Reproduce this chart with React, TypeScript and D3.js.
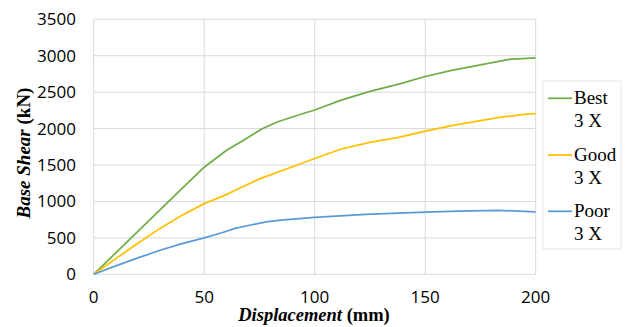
import React from "react";
import * as d3 from "d3";

const xTicks = [0, 50, 100, 150, 200];
const yTicks = [0, 500, 1000, 1500, 2000, 2500, 3000, 3500];

const bestX = [0, 10, 20, 30, 40, 50, 60, 68, 76, 83, 93, 100, 112, 125, 138, 150, 162, 175, 188, 200];
const bestY = [0, 295, 590, 885, 1180, 1470, 1700, 1845, 1995, 2090, 2190, 2255, 2390, 2510, 2610, 2715, 2800, 2875, 2950, 2970];

const goodX = [0, 10, 20, 30, 40, 50, 59, 66, 75, 93, 100, 112, 125, 138, 150, 162, 175, 185, 196, 200];
const goodY = [0, 215, 425, 630, 810, 970, 1080, 1180, 1310, 1510, 1590, 1720, 1810, 1880, 1965, 2040, 2110, 2160, 2200, 2205];

const poorX = [0, 10, 20, 30, 40, 50, 58, 64, 70, 78, 86, 100, 123, 150, 165, 183, 200];
const poorY = [0, 115, 225, 330, 420, 500, 570, 630, 670, 720, 748, 782, 823, 852, 868, 878, 858];

const seriesNames = ["Best", "Good", "Poor"];
const seriesColors = ["#70AD47", "#FFC000", "#5B9BD5"];

export default function App() {
  const W = 627, H = 327;
  const x = d3.scaleLinear().domain([0, 200]).range([93.7, 535.7]);
  const y = d3.scaleLinear().domain([0, 3500]).range([274.3, 19.3]);
  const line = d3.line<[number, number]>().x(d => x(d[0])).y(d => y(d[1]));
  const series = [
    bestX.map((v, i) => [v, bestY[i]] as [number, number]),
    goodX.map((v, i) => [v, goodY[i]] as [number, number]),
    poorX.map((v, i) => [v, poorY[i]] as [number, number]),
  ];
  const tickFont = "Open Sans, Liberation Sans, sans-serif";
  const serif = "Liberation Serif, Times New Roman, Tinos, DejaVu Serif, serif";
  const legendBase = [104.3, 161, 217.3];
  return (
    <svg width={W} height={H} style={{ position: "absolute", left: 0, top: 0, background: "#fff" }}>
      <rect x={0} y={0} width={W} height={H} fill="#fff" />
      {yTicks.map(t => (
        <line key={"gy" + t} x1={x(0)} x2={x(200)} y1={y(t)} y2={y(t)} stroke="#d9d9d9" strokeWidth={1} />
      ))}
      {xTicks.map(t => (
        <line key={"gx" + t} x1={x(t)} x2={x(t)} y1={y(0)} y2={y(3500)} stroke="#d9d9d9" strokeWidth={1} />
      ))}
      {yTicks.map(t => (
        <text key={"ty" + t} x={76} y={y(t)} dy="0.35em" textAnchor="end" style={{ fontFamily: tickFont }} fontSize={17} fill="#000">{t}</text>
      ))}
      {xTicks.map(t => (
        <text key={"tx" + t} x={x(t)} y={303} textAnchor="middle" style={{ fontFamily: tickFont }} fontSize={17} fill="#000">{t}</text>
      ))}
      {series.map((s, i) => (
        <path key={"s" + i} d={line(s) || ""} fill="none" stroke={seriesColors[i]} strokeWidth={1.75} strokeLinejoin="round" />
      ))}
      <text x={314} y={321} textAnchor="middle" style={{ fontFamily: serif }} fontSize={18.5} fontWeight="bold" fill="#000">
        <tspan fontStyle="italic">Displacement</tspan> (mm)
      </text>
      <text transform="translate(30,153) rotate(-90)" textAnchor="middle" style={{ fontFamily: serif }} fontSize={19} fontWeight="bold" fill="#000">
        <tspan fontStyle="italic">Base Shear</tspan> (kN)
      </text>
      <rect x={543} y={81} width={78} height={168} fill="#fff" stroke="#e6e6e6" strokeWidth={1} />
      {seriesNames.map((n, i) => (
        <g key={"lg" + i}>
          <line x1={548} x2={572} y1={legendBase[i] - 6} y2={legendBase[i] - 6} stroke={seriesColors[i]} strokeWidth={1.75} />
          <text x={574} y={legendBase[i]} style={{ fontFamily: serif }} fontSize={19} fill="#000">{n}</text>
          <text x={574} y={legendBase[i] + 23} style={{ fontFamily: serif }} fontSize={19} fill="#000">3 X</text>
        </g>
      ))}
    </svg>
  );
}
